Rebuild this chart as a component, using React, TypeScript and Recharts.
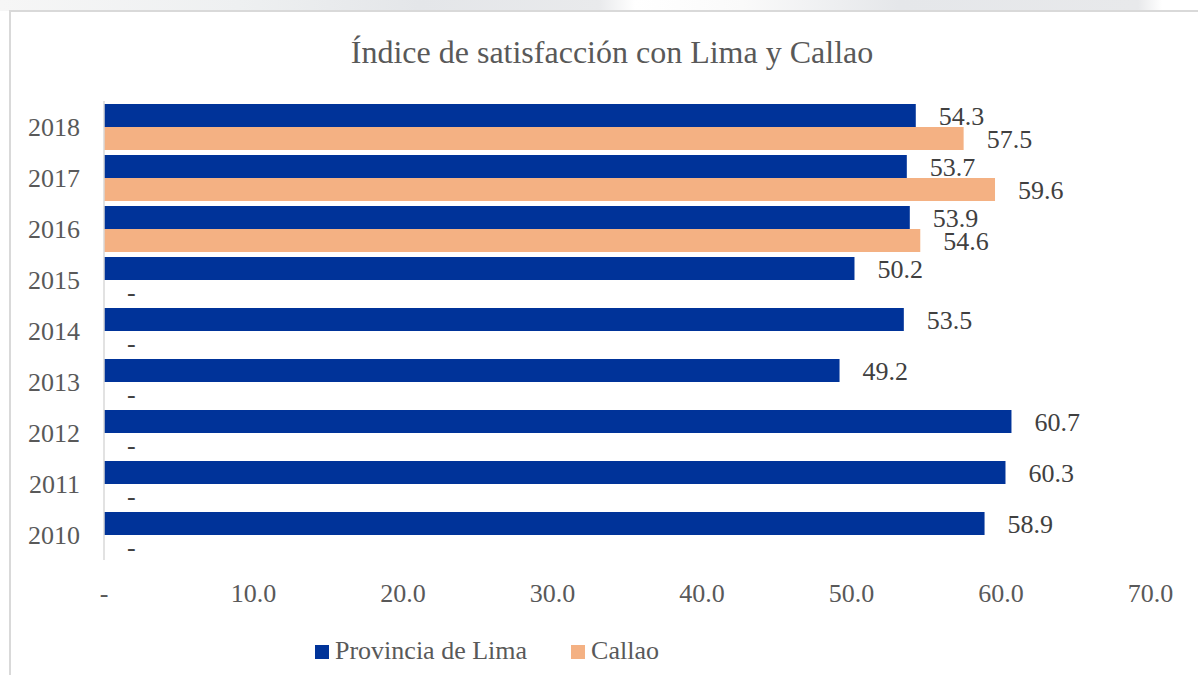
import { BarChart, Bar, XAxis, YAxis, LabelList } from 'recharts';

// years, top to bottom as drawn
const years = ['2018', '2017', '2016', '2015', '2014', '2013', '2012', '2011', '2010'];
const limaValues = [54.3, 53.7, 53.9, 50.2, 53.5, 49.2, 60.7, 60.3, 58.9];
// no Callao survey before 2016: shown as "-"
const callaoValues = [57.5, 59.6, 54.6, 0, 0, 0, 0, 0, 0];
const xTicks = [0, 10, 20, 30, 40, 50, 60, 70];

const seriesNames = ['Provincia de Lima', 'Callao'];
const seriesColors = ['#003399', '#f4b183'];

const FONT = '"Liberation Serif", "Times New Roman", serif';
const TEXT = '#595959';
const LABEL = '#404040';

const data = years.map((year, i) => ({
  year,
  lima: limaValues[i],
  callao: callaoValues[i],
}));

const fmt = (v: any) => (Number(v) === 0 ? '-' : Number(v).toFixed(1));

const valueText = (x: number, y: number, v: any, key?: string) => (
  <text
    key={key}
    x={x}
    y={y}
    dy="0.355em"
    textAnchor="start"
    fill={LABEL}
    fontSize={26}
    fontFamily={FONT}
  >
    {fmt(v)}
  </text>
);

// Recharts drops zero-width bars, so the Callao "-" is drawn from the Lima bar
// of the same year, one bar-height lower
const renderLima = (props: any) => {
  const { x, y, width, height, value, index } = props;
  const bx = Number(x);
  const by = Number(y);
  const h = Number(height);
  const zeroCallao = data[index] && data[index].callao === 0;
  return (
    <g>
      {valueText(bx + Number(width) + 23, by + h / 2, value, 'v')}
      {zeroCallao ? valueText(bx + 23, by + h * 1.5, 0, 'd') : null}
    </g>
  );
};

const renderCallao = (props: any) => {
  const { x, y, width, height, value } = props;
  return valueText(Number(x) + Number(width) + 23, Number(y) + Number(height) / 2, value);
};

export default function App() {
  return (
    <div
      style={{
        position: 'fixed',
        left: 0,
        top: 0,
        width: 1198,
        height: 675,
        background: '#fff',
        overflow: 'hidden',
        fontFamily: FONT,
      }}
    >
      {/* faded strip above the chart frame */}
      <div
        style={{
          position: 'absolute',
          left: 0,
          top: 0,
          width: 1198,
          height: 11,
          background:
            'linear-gradient(90deg, #f6f6f6 0%, #eef0f1 20%, #e4e6e9 35%, #e9eaec 50%, #ffffff 53%, #fafafa 62%, #e5e7ea 75%, #e8e9eb 95%, #ffffff 97%)',
        }}
      />
      <div
        style={{
          position: 'absolute',
          left: 9,
          top: 10,
          width: 1189,
          height: 665,
          borderLeft: '2px solid #d9d9d9',
          borderTop: '2px solid #d9d9d9',
          background: '#fff',
        }}
      >
        <div
          style={{
            position: 'absolute',
            left: 0,
            top: 24,
            width: 1202,
            textAlign: 'center',
            fontSize: 32,
            lineHeight: '32px',
            color: TEXT,
            whiteSpace: 'nowrap',
          }}
        >
          Índice de satisfacción con Lima y Callao
        </div>

        <BarChart
          width={1187}
          height={663}
          data={data}
          layout="vertical"
          margin={{ top: 89, right: 47.5, left: 0, bottom: 55 }}
          barCategoryGap={3}
          barGap={0}
        >
          <XAxis
            type="number"
            domain={[0, 70]}
            ticks={xTicks}
            tickFormatter={fmt}
            axisLine={false}
            tickLine={false}
            tickMargin={18}
            height={60}
            tick={{ fill: TEXT, fontSize: 26, fontFamily: FONT }}
          />
          <YAxis
            type="category"
            dataKey="year"
            width={93}
            axisLine={{ stroke: '#d9d9d9', strokeWidth: 1.5 }}
            tickLine={false}
            tickMargin={18}
            tick={{ fill: TEXT, fontSize: 26, fontFamily: FONT }}
          />
          <Bar dataKey="lima" name={seriesNames[0]} fill={seriesColors[0]} isAnimationActive={false}>
            <LabelList dataKey="lima" content={renderLima} />
          </Bar>
          <Bar dataKey="callao" name={seriesNames[1]} fill={seriesColors[1]} isAnimationActive={false}>
            <LabelList dataKey="callao" content={renderCallao} />
          </Bar>
        </BarChart>

        {/* legend */}
        <div
          style={{
            position: 'absolute',
            left: 304,
            top: 624,
            display: 'flex',
            alignItems: 'center',
            fontSize: 26,
            lineHeight: '30px',
            color: TEXT,
          }}
        >
          {seriesNames.map((name, i) => (
            <div key={name} style={{ display: 'flex', alignItems: 'center', marginRight: 44 }}>
              <span
                style={{
                  display: 'inline-block',
                  width: 14,
                  height: 14,
                  background: seriesColors[i],
                  marginRight: 6,
                  marginTop: 2,
                }}
              />
              <span>{name}</span>
            </div>
          ))}
        </div>
      </div>
    </div>
  );
}
